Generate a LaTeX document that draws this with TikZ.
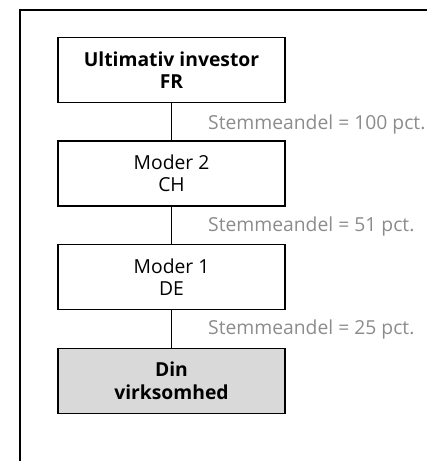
\documentclass[tikz,border=0pt]{standalone}
\usepackage{fontspec}
\setmainfont{Open Sans}
\begin{document}
\begin{tikzpicture}[x=1pt,y=-1pt,
  entity/.style={draw=black, line width=1.8pt, minimum width=227pt, minimum height=65pt,
    inner sep=0pt, align=center, font=\fontsize{19.3}{22.5}\selectfont},
  owner/.style={entity, fill=gray!30},
  link/.style={line width=1.6pt},
  share/.style={text=black!45, anchor=west, inner sep=0pt, font=\fontsize{19.3}{22}\selectfont}]
\useasboundingbox (0,0) rectangle (427,461);
% outer frame (top and left edge)
\draw[line width=2pt] (20,461) -- (20,10) -- (430,10);
\node[entity, font=\bfseries\fontsize{19.3}{22.5}\selectfont] (inv) at (171.5,70) {Ultimativ investor\\FR};
\node[entity] (m2) at (171.5,173.5) {Moder 2\\CH};
\node[entity] (m1) at (171.5,277) {Moder 1\\DE};
\node[owner, font=\bfseries\fontsize{19.3}{22.5}\selectfont] (din) at (171.5,381) {Din\\virksomhed};
\draw[link] (inv) -- (m2);
\draw[link] (m2) -- (m1);
\draw[link] (m1) -- (din);
\node[share] (s1) at (208,124) {Stemmeandel = 100 pct.};
\node[share] (s2) at (208,226) {Stemmeandel = 51 pct.};
\node[share] (s3) at (208,329) {Stemmeandel = 25 pct.};
\end{tikzpicture}
\end{document}
